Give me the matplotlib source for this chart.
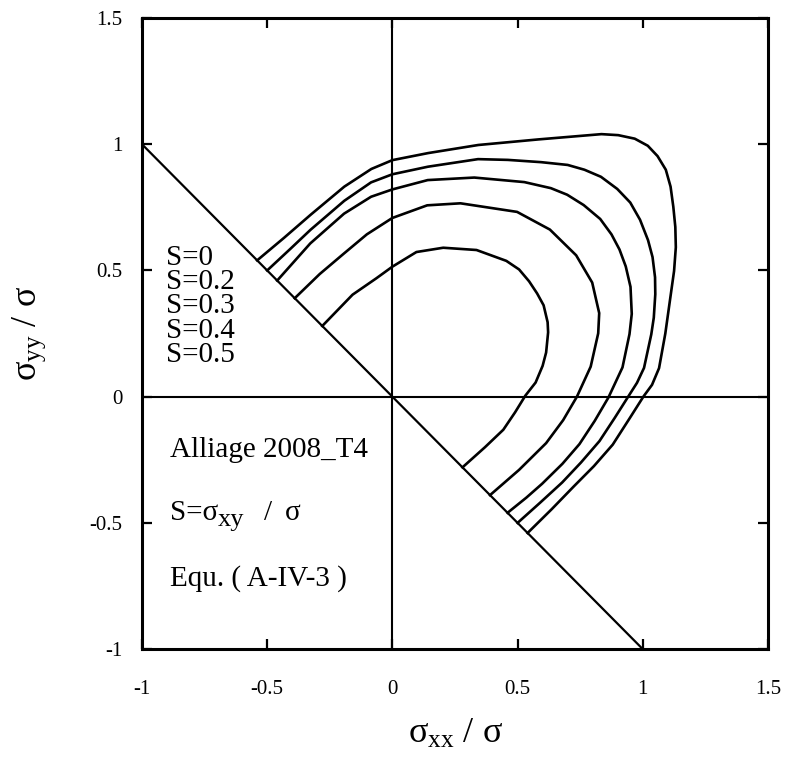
"""Yield loci sigma_yy vs sigma_xx for several shear ratios S (Alliage 2008_T4)."""

import matplotlib

matplotlib.use("Agg")
import matplotlib.pyplot as plt

plt.rcParams.update(
    {
        "font.family": ["Liberation Serif", "DejaVu Serif"],
        "mathtext.fontset": "custom",
        "mathtext.rm": "Liberation Serif",
        "mathtext.it": "Liberation Serif:italic",
        "axes.linewidth": 2.2,
    }
)

# ---------------------------------------------------------------------------
# Data (sigma_xx / sigma, sigma_yy / sigma)
# ---------------------------------------------------------------------------
s_labels = ["S=0", "S=0.2", "S=0.3", "S=0.4", "S=0.5"]

s0_x = [-0.54, -0.433, -0.326, -0.192, -0.084, 0.0, 0.143, 0.343, 0.582, 0.835, 0.902,
        0.968, 1.020, 1.059, 1.092, 1.111, 1.122, 1.130, 1.132, 1.125, 1.110, 1.09,
        1.065, 1.037, 1.003, 0.948, 0.88, 0.805, 0.725, 0.636, 0.54]
s0_y = [0.54, 0.629, 0.721, 0.832, 0.902, 0.937, 0.965, 0.997, 1.019, 1.04, 1.036,
        1.022, 0.994, 0.953, 0.899, 0.832, 0.752, 0.672, 0.592, 0.498, 0.392, 0.25,
        0.113, 0.047, 0.001, -0.085, -0.19, -0.275, -0.355, -0.446, -0.54]

s02_x = [-0.50, -0.408, -0.327, -0.192, -0.085, 0.0, 0.142, 0.342, 0.461, 0.594, 0.700,
         0.767, 0.833, 0.898, 0.950, 0.989, 1.021, 1.039, 1.049, 1.05, 1.044, 1.034,
         1.005, 0.977, 0.943, 0.888, 0.827, 0.753, 0.678, 0.59, 0.50]
s02_y = [0.50, 0.585, 0.661, 0.776, 0.849, 0.881, 0.911, 0.941, 0.938, 0.929, 0.918,
         0.899, 0.871, 0.823, 0.769, 0.701, 0.620, 0.553, 0.473, 0.406, 0.313, 0.247,
         0.114, 0.055, 0.002, -0.084, -0.176, -0.261, -0.34, -0.42, -0.50]

s03_x = [-0.46, -0.328, -0.193, -0.085, 0.0, 0.141, 0.327, 0.527, 0.633, 0.698, 0.764,
         0.83, 0.875, 0.907, 0.932, 0.951, 0.956, 0.947, 0.919, 0.863, 0.808, 0.747,
         0.679, 0.598, 0.535, 0.46]
s03_y = [0.46, 0.607, 0.725, 0.792, 0.821, 0.858, 0.868, 0.85, 0.826, 0.80, 0.759,
         0.704, 0.643, 0.583, 0.516, 0.435, 0.328, 0.248, 0.116, -0.003, -0.096, -0.188,
         -0.266, -0.345, -0.40, -0.46]

s04_x = [-0.39, -0.29, -0.196, -0.102, 0.0, 0.139, 0.272, 0.498, 0.629, 0.734, 0.798,
         0.826, 0.822, 0.792, 0.737, 0.682, 0.614, 0.506, 0.39]
s04_y = [0.39, 0.486, 0.565, 0.643, 0.708, 0.758, 0.766, 0.732, 0.662, 0.56, 0.452,
         0.331, 0.251, 0.119, 0.0, -0.093, -0.184, -0.29, -0.39]

s05_x = [-0.28, -0.159, -0.064, 0.0, 0.096, 0.203, 0.336, 0.455, 0.506, 0.546, 0.578,
         0.604, 0.620, 0.622, 0.614, 0.60, 0.572, 0.531, 0.490, 0.443, 0.37, 0.28]
s05_y = [0.28, 0.404, 0.469, 0.515, 0.573, 0.59, 0.581, 0.538, 0.504, 0.457, 0.409,
         0.362, 0.295, 0.255, 0.175, 0.122, 0.056, 0.004, -0.062, -0.131, -0.20, -0.28]

# limit line sigma_yy = -sigma_xx
diag_x = [-1.0, 1.0]
diag_y = [1.0, -1.0]

ticks = [-1, -0.5, 0, 0.5, 1, 1.5]
tick_labels = ["-1", "-0.5", "0", "0.5", "1", "1.5"]

# ---------------------------------------------------------------------------
# Figure
# ---------------------------------------------------------------------------
fig = plt.figure(figsize=(7.95, 7.7), dpi=100)
ax = fig.add_axes([0.1786, 0.157, 0.7874, 0.8196])

ax.axhline(0, color="black", lw=1.5)
ax.axvline(0, color="black", lw=1.5)
ax.plot(diag_x, diag_y, color="black", lw=1.6)

for xs, ys in [(s0_x, s0_y), (s02_x, s02_y), (s03_x, s03_y), (s04_x, s04_y), (s05_x, s05_y)]:
    ax.plot(xs, ys, color="black", lw=1.9, solid_joinstyle="round")

ax.set_xlim(-1, 1.5)
ax.set_ylim(-1, 1.5)
ax.set_xticks(ticks)
ax.set_yticks(ticks)
ax.set_xticklabels(tick_labels)
ax.set_yticklabels(tick_labels)
ax.tick_params(direction="in", top=True, right=True, length=7, width=1.6,
               labelsize=15, pad=14)
ax.tick_params(axis="x", pad=22)

ax.set_xlabel(r"σ$_{\rm xx}$ / σ", fontsize=26, labelpad=14)
ax.set_ylabel(r"σ$_{\rm yy}$ / σ", fontsize=26, labelpad=30)

# stacked curve labels
for i, lab in enumerate(s_labels):
    ax.text(-0.905, 0.55 - 0.096 * i, lab, fontsize=21, ha="left", va="center")

ax.text(-0.89, -0.21, "Alliage 2008_T4", fontsize=21, ha="left", va="center")

# "S = sigma_xy / sigma" with a large, lowered subscript as in the original
s_anchor = (-0.89, -0.46)
ax.annotate("S=σ", s_anchor, fontsize=21, ha="left", va="center")
ax.annotate("xy", s_anchor, xytext=(35, -5), textcoords="offset points",
            fontsize=19, ha="left", va="center")
ax.annotate("/", s_anchor, xytext=(68, 0), textcoords="offset points",
            fontsize=21, ha="left", va="center")
ax.annotate("σ", s_anchor, xytext=(83, 0), textcoords="offset points",
            fontsize=21, ha="left", va="center")

ax.text(-0.89, -0.72, "Equ. ( A-IV-3 )", fontsize=21, ha="left", va="center")

fig.savefig("out.png", dpi=100)
